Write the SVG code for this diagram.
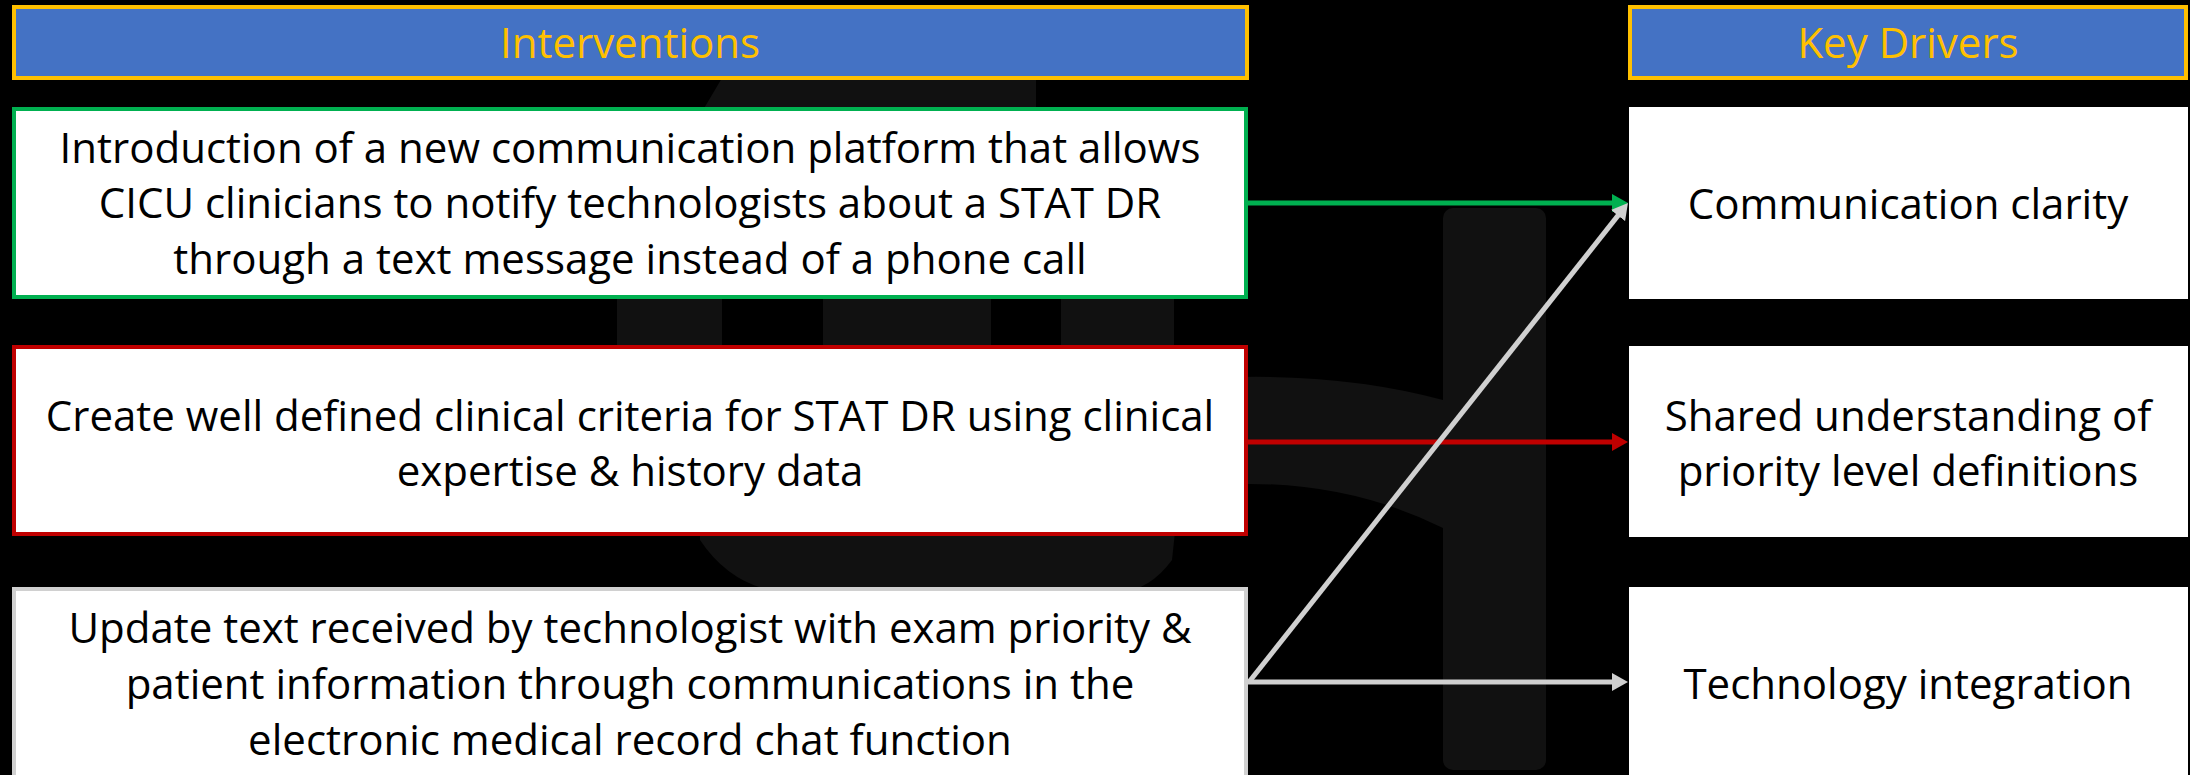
<svg xmlns="http://www.w3.org/2000/svg" width="2190" height="775" viewBox="0 0 2190 775">
  <defs>
    <style>
      .hdr { fill: #4472C4; stroke: #FFC000; stroke-width: 4; }
      .hdr-t { font-family: "Open Sans", "Noto Sans", sans-serif; font-size: 42px; fill: #FFC000; text-anchor: middle; }
      .box { fill: #FFFFFF; stroke-width: 4; }
      .t { font-family: "Open Sans", "Noto Sans", sans-serif; font-size: 42px; fill: #000000; text-anchor: middle; }
      .wm { fill: #111111; }
      .conn { fill: none; stroke-width: 5; }
    </style>
    <marker id="arrG" markerUnits="userSpaceOnUse" markerWidth="16" markerHeight="18" refX="4" refY="9" orient="auto">
      <path d="M0,0 L16,9 L0,18 z" fill="#00B050"/>
    </marker>
    <marker id="arrR" markerUnits="userSpaceOnUse" markerWidth="16" markerHeight="18" refX="4" refY="9" orient="auto">
      <path d="M0,0 L16,9 L0,18 z" fill="#C00000"/>
    </marker>
    <marker id="arrS" markerUnits="userSpaceOnUse" markerWidth="16" markerHeight="18" refX="4" refY="9" orient="auto">
      <path d="M0,0 L16,9 L0,18 z" fill="#D0D0D0"/>
    </marker>
  </defs>

  <rect x="0" y="0" width="2190" height="775" fill="#000000"/>

  <g id="watermark">
    <path class="wm" d="M722,78 L1036,78 L1036,110 L703,110 Z"/>
    <rect class="wm" x="617" y="295" width="105" height="55"/>
    <rect class="wm" x="823" y="295" width="168" height="55"/>
    <rect class="wm" x="1061" y="295" width="113" height="55"/>
    <path class="wm" d="M700,532 L1175,532 L1172,560 Q1150,590 1120,592 L780,592 Q730,585 700,540 Z"/>
    <rect class="wm" x="1443" y="208" width="103" height="562" rx="10"/>
    <path class="wm" d="M1240,377 Q1350,375 1443,400 L1443,528 Q1350,482 1240,484 Z"/>
  </g>

  <g id="header-interventions">
    <rect class="hdr" x="14" y="7" width="1233" height="71"/>
    <text class="hdr-t" x="630" y="58">Interventions</text>
  </g>
  <g id="header-key-drivers">
    <rect class="hdr" x="1630" y="7" width="556" height="71"/>
    <text class="hdr-t" x="1908" y="58">Key Drivers</text>
  </g>

  <g id="connectors">
    <line class="conn" x1="1248" y1="203" x2="1616" y2="203" stroke="#00B050" marker-end="url(#arrG)"/>
    <line class="conn" x1="1248" y1="442" x2="1616" y2="442" stroke="#C00000" marker-end="url(#arrR)"/>
    <line class="conn" x1="1248" y1="682" x2="1616" y2="682" stroke="#D0D0D0" marker-end="url(#arrS)"/>
    <line class="conn" x1="1249" y1="682" x2="1620.5" y2="212.4" stroke="#D0D0D0" marker-end="url(#arrS)"/>
  </g>

  <g id="intervention-1">
    <rect class="box" x="14" y="109" width="1232" height="188" stroke="#00B050"/>
    <text class="t" x="630" y="163">Introduction of a new communication platform that allows</text>
    <text class="t" x="630" y="218">CICU clinicians to notify technologists about a STAT DR</text>
    <text class="t" x="630" y="274">through a text message instead of a phone call</text>
  </g>
  <g id="intervention-2">
    <rect class="box" x="14" y="347" width="1232" height="187" stroke="#C00000"/>
    <text class="t" x="630" y="431">Create well defined clinical criteria for STAT DR using clinical</text>
    <text class="t" x="630" y="486">expertise &amp; history data</text>
  </g>
  <g id="intervention-3">
    <rect class="box" x="14" y="589" width="1232" height="190" stroke="#D0D0D0"/>
    <text class="t" x="630" y="643">Update text received by technologist with exam priority &amp;</text>
    <text class="t" x="630" y="699">patient information through communications in the</text>
    <text class="t" x="630" y="755">electronic medical record chat function</text>
  </g>

  <g id="driver-1">
    <rect x="1629" y="107" width="559" height="192" fill="#FFFFFF"/>
    <text class="t" x="1908" y="219">Communication clarity</text>
  </g>
  <g id="driver-2">
    <rect x="1629" y="346" width="559" height="191" fill="#FFFFFF"/>
    <text class="t" x="1908" y="431">Shared understanding of</text>
    <text class="t" x="1908" y="486">priority level definitions</text>
  </g>
  <g id="driver-3">
    <rect x="1629" y="587" width="559" height="190" fill="#FFFFFF"/>
    <text class="t" x="1908" y="699">Technology integration</text>
  </g>
</svg>
